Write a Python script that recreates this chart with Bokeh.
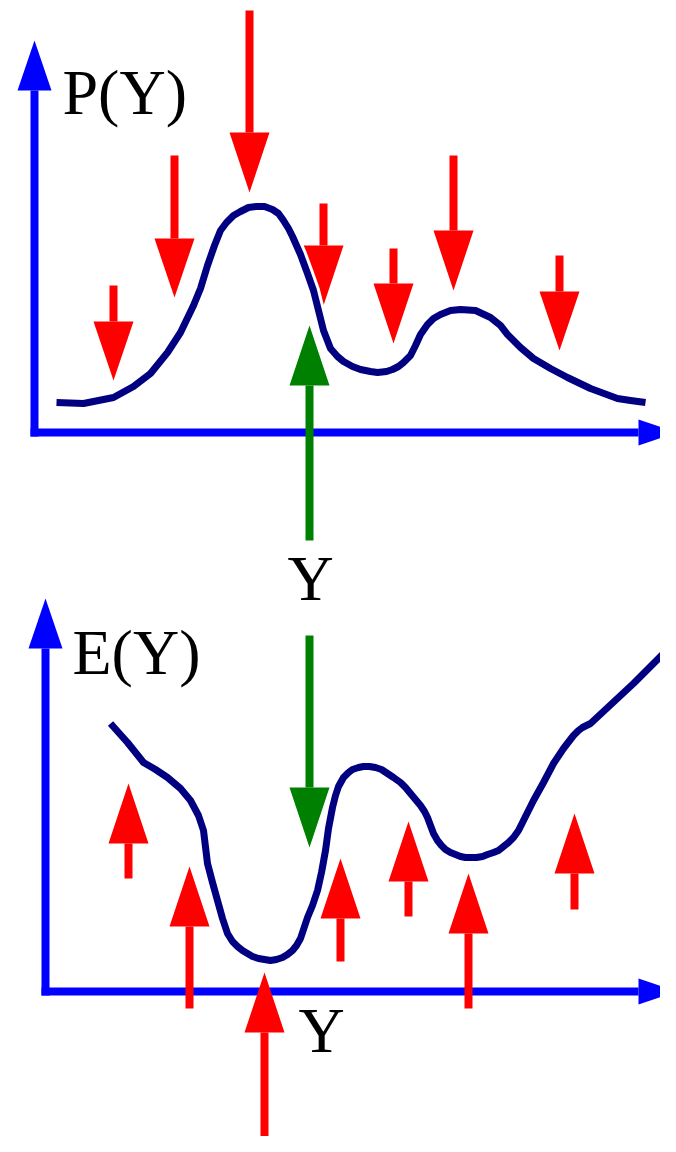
from bokeh.plotting import figure
from bokeh.models import Range1d
from bokeh.core.properties import value
from bokeh.embed import file_html
from bokeh.resources import INLINE

# ---- data (diagram coordinates; y grows downward) ----
# upper curve P(Y)
top_x = [56, 83, 113, 133, 150, 167, 180, 193, 200, 207, 214, 220, 226, 233, 240, 248, 256, 264,
         272, 278, 283, 288, 292, 300, 307, 313, 318, 323, 330, 337, 343, 352, 360, 370, 377, 386,
         392, 398, 403, 410, 415, 420, 427, 433, 440, 450, 460, 475, 490, 500, 507, 520, 533, 550,
         567, 590, 617, 630, 645]
top_y = [402, 403, 397, 386, 373, 352, 332, 305, 288, 265, 245, 230, 222, 215, 211, 207, 206, 206,
         209, 213, 220, 228, 236, 254, 273, 290, 310, 330, 348, 356, 361, 366, 369, 371, 372, 371,
         369, 366, 362, 355, 345, 334, 324, 318, 314, 310, 309, 310, 317, 325, 334, 347, 358, 368,
         377, 388, 398, 400, 402]

# lower curve E(Y)
bot_x = [110, 127, 143, 155, 167, 180, 190, 198, 203, 207, 212, 217, 222, 227, 232, 237, 242, 247,
         252, 258, 264, 270, 276, 282, 287, 292, 296, 300, 307, 312, 317, 321, 325, 328, 332, 335,
         338, 343, 348, 352, 358, 363, 369, 375, 381, 387, 393, 400, 405, 410, 415, 420, 424, 427,
         430, 433, 437, 441, 445, 450, 455, 460, 465, 470, 476, 482, 487, 493, 498, 503, 508, 513,
         518, 523, 528, 533, 543, 553, 563, 573, 578, 582, 586, 590, 633, 676]
bot_y = [723, 742, 762, 769, 777, 788, 800, 815, 830, 863, 882, 900, 918, 933, 941, 946, 950, 953,
         956, 958, 959, 960, 959, 957, 954, 950, 945, 938, 917, 905, 890, 872, 850, 828, 807, 795,
         786, 777, 772, 769, 767, 766, 766, 767, 769, 773, 777, 782, 787, 793, 799, 805, 811, 817,
         825, 833, 840, 845, 849, 852, 854, 856, 857, 857, 857, 856, 854, 852, 850, 846, 842, 837,
         830, 820, 810, 800, 782, 763, 748, 735, 730, 727, 725, 723, 683, 640]

# red arrows pointing down (upper panel): x, shaft start, head base, tip
down_x = [113, 174, 249, 323, 393, 453, 559]
down_start = [285, 155, 10, 203, 248, 155, 255]
down_base = [321, 238, 132, 245, 283, 230, 291]
down_tip = [380, 297, 192, 305, 343, 290, 350]

# red arrows pointing up (lower panel)
up_x = [128, 189, 264, 340, 408, 468, 574]
up_start = [878, 1008, 1160, 961, 916, 1008, 909]
up_base = [843, 926, 1032, 918, 881, 933, 873]
up_tip = [783, 866, 972, 858, 821, 873, 813]

# green arrows: x, shaft start, head base, tip
green_x = [309, 309]
green_start = [540, 635]
green_base = [385, 787]
green_tip = [325, 847]

# axes: origin x, origin y, y-arrow tip, x-arrow tip
axis_ox = [34, 45]
axis_oy = [432, 991]
axis_ytip = [40, 598]
axis_xtip = [676, 676]

labels = ["P(Y)", "E(Y)"]
label_x = [62, 72]
label_y = [117, 677]
ylab_x = [310, 321]
ylab_y = [603, 1055]
BASELINE_SHIFT = -25  # renderer places alphabetic baseline lower than requested

# ---- styles ----
RED = "#FF0000"
GREEN = "#008000"
BLUE = "#0000FF"
NAVY = "#000080"
SHAFT_W = 8
HEAD_HALF = 20
FONT = value("Liberation Serif")

p = figure(width=660, height=1136, x_range=Range1d(0, 660), y_range=Range1d(1136, 0),
           output_backend="svg", toolbar_location=None, min_border=0)
p.axis.visible = False
p.grid.visible = False
p.outline_line_color = None
p.background_fill_color = "white"
p.border_fill_color = "white"

# blue axes
for ox, oy, yt, xt in zip(axis_ox, axis_oy, axis_ytip, axis_xtip):
    y_base = yt + 50
    x_base = xt - 38
    p.segment(x0=[ox], y0=[oy + 4], x1=[ox], y1=[y_base], line_color=BLUE, line_width=8)
    p.segment(x0=[ox - 4], y0=[oy], x1=[x_base], y1=[oy], line_color=BLUE, line_width=8)
    p.patch(x=[ox - 17, ox + 17, ox], y=[y_base, y_base, yt], fill_color=BLUE, line_color=None)
    p.patch(x=[x_base, x_base, xt], y=[oy - 13, oy + 13, oy], fill_color=BLUE, line_color=None)

def arrows(xs, starts, bases, tips, color):
    p.segment(x0=xs, y0=starts, x1=xs, y1=bases, line_color=color, line_width=SHAFT_W)
    pxs = [[x - HEAD_HALF, x + HEAD_HALF, x] for x in xs]
    pys = [[b, b, t] for b, t in zip(bases, tips)]
    p.patches(xs=pxs, ys=pys, fill_color=color, line_color=None)

arrows(down_x, down_start, down_base, down_tip, RED)
arrows(up_x, up_start, up_base, up_tip, RED)
arrows(green_x, green_start, green_base, green_tip, GREEN)

# curves with a thin white halo
for cx, cy in ((top_x, top_y), (bot_x, bot_y)):
    p.line(cx, cy, line_color="white", line_width=13, line_join="round")
    p.line(cx, cy, line_color=NAVY, line_width=7, line_join="round", line_cap="butt")

p.text(x=label_x, y=[v + BASELINE_SHIFT for v in label_y], text=labels, text_font=FONT,
       text_font_size="64px", text_color="black", text_align="left", text_baseline="alphabetic")
p.text(x=ylab_x, y=[v + BASELINE_SHIFT for v in ylab_y], text=["Y", "Y"], text_font=FONT,
       text_font_size="64px", text_color="black", text_align="center", text_baseline="alphabetic")

open("out.html", "w").write(file_html(p, INLINE))
